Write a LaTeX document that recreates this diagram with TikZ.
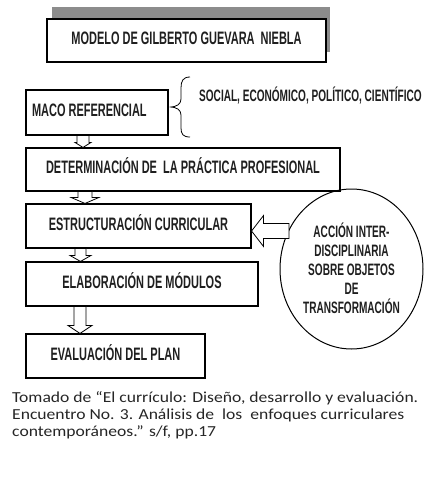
\documentclass[tikz,border=0pt]{standalone}
\usepackage{fontspec}
\setmainfont{Liberation Sans}
\newfontfamily\condfont[FakeStretch=0.61]{Liberation Sans Bold}
\newfontfamily\capfont[FakeStretch=1.15]{Carlito}
\usetikzlibrary{shapes.geometric,calc}
\tikzset{
  boxstyle/.style={draw=black, line width=1.1pt, rectangle, inner sep=0pt,
    font=\condfont\fontsize{18}{20}\selectfont, text=black!88,
    text height=12.9pt, text depth=4pt},
  blk/.style={draw=black, line width=0.8pt, fill=white, line join=miter},
  bracestyle/.style={draw=black, line width=0.8pt},
}
\newcommand\vblk[6]{%
  \draw[blk] let \p1=(#1.south), \p2=(#2.north) in
    ({(#3-#4)*1pt},\y1) -- ({(#3+#4)*1pt},\y1) -- ({(#3+#4)*1pt},{\y2+#6pt})
    -- ({(#3+#5)*1pt},{\y2+#6pt}) -- ({#3*1pt},\y2) -- ({(#3-#5)*1pt},{\y2+#6pt})
    -- ({(#3-#4)*1pt},{\y2+#6pt}) -- cycle;}
\begin{document}
\begin{tikzpicture}[x=1pt,y=-1pt]
\useasboundingbox[fill=white] (0,0) rectangle (434,480);
% title with shadow
\fill[black!45] (52,7) rectangle (330,52);
\node[boxstyle, fill=white, minimum width=279pt, minimum height=43pt] (title) at (186.5,40.5)
  {MODELO DE GILBERTO GUEVARA~ NIEBLA};
% boxes
\node[boxstyle, minimum width=142pt, minimum height=45pt] (maco) at (97,112.5)
  {\makebox[130pt][l]{MACO REFERENCIAL}};
\node[boxstyle, minimum width=314pt, minimum height=43pt] (det) at (183,169.5)
  {DETERMINACIÓN DE~ LA PRÁCTICA PROFESIONAL};
\node[boxstyle, minimum width=225pt, minimum height=44pt] (est) at (138.5,226)
  {ESTRUCTURACIÓN CURRICULAR};
\node[boxstyle, minimum width=232pt, minimum height=44pt] (ela) at (142,284)
  {ELABORACIÓN DE MÓDULOS};
\node[boxstyle, minimum width=179pt, minimum height=44pt] (eva) at (115.5,356)
  {EVALUACIÓN DEL PLAN};
% ellipse
\node[inner sep=0pt, align=center, font=\condfont\fontsize{16.5}{19}\selectfont, text=black!88] (act) at (351.5,268)
  {ACCIÓN INTER-\\DISCIPLINARIA\\SOBRE OBJETOS\\DE\\TRANSFORMACIÓN};
\draw[line width=1pt] ($(act.center)+(0,1)$) ellipse [x radius=71.5pt, y radius=80pt];
\coordinate (tail) at ($(act.center)+(-62.6,-37)$);
% brace and its text
\coordinate (bt) at (maco.east);
\draw[bracestyle] (190,77) .. controls (183,77) and (181,81) .. (181,88) -- (181,99)
  .. controls (181,104) and (177,107) .. ($(bt)+(1,-5.5)$)
  .. controls (177,107) and (181,110) .. (181,115) -- (181,128)
  .. controls (181,134) and (183,137) .. (190,137);
\node[anchor=base west, inner sep=0pt, font=\condfont\fontsize{16.5}{19}\selectfont, text=black!88] (soc) at (199,101)
  {SOCIAL, ECONÓMICO, POLÍTICO, CIENTÍFICO};
% block arrows
\vblk{maco}{det}{83}{6}{8}{5}
\vblk{det}{est}{85}{7}{14}{6}
\vblk{est}{ela}{80.5}{5.5}{10.5}{6}
\vblk{ela}{eva}{80}{6}{12}{8}
\draw[blk] let \p1=(tail), \p2=(est.east) in
  (\x1,{\y1+7.5pt}) -- ({\x2+12pt},{\y1+7.5pt}) -- ({\x2+12pt},{\y1+15.5pt}) -- (\x2,\y1)
  -- ({\x2+12pt},{\y1-15.5pt}) -- ({\x2+12pt},{\y1-7.5pt}) -- (\x1,{\y1-7.5pt}) -- cycle;
% caption
\node[anchor=north west, inner sep=0pt, align=left, font=\capfont\fontsize{15.3}{17.3}\selectfont, text=black!85] (cap) at (12,391)
  {Tomado de “El currículo: Diseño, desarrollo y evaluación.\\
   Encuentro No. 3. Análisis de~ los~ enfoques curriculares\\
   contemporáneos.” s/f, pp.17};
\end{tikzpicture}
\end{document}
